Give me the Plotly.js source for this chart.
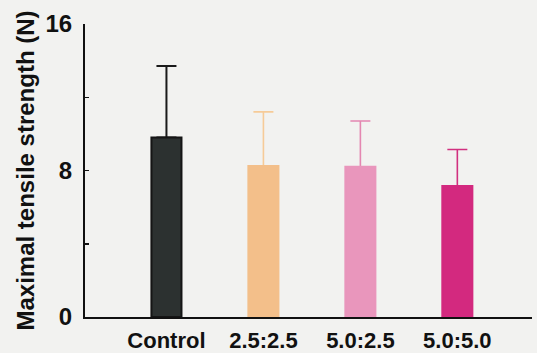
<!DOCTYPE html>
<html>
<head>
<meta charset="utf-8">
<script src="https://cdn.plot.ly/plotly-3.0.1.min.js"></script>
<style>html,body{margin:0;padding:0;background:#f2f2f0;}#chart{width:537px;height:353px;}</style>
</head>
<body>
<div id="chart"></div>
<script>
const categories = ['Control', '2.5:2.5', '5.0:2.5', '5.0:5.0'];
const means = [9.8, 8.25, 8.2, 7.15];
const sds = [3.9, 2.95, 2.5, 2.0];
const barColors = ['#2c3130', '#f3bf8a', '#e996bc', '#d3297f'];
const errColors = ['#1a1a1a', '#f6cb98', '#e487b1', '#d1307f'];
const yTickVals = [0, 4, 8, 12, 16];
const yTickText = ['0', '', '8', '', '16'];

const FONT = 'Liberation Sans, Arial, sans-serif';

// error bars (drawn first, bars are drawn over their lower ends)
const errTraces = categories.map((c, i) => ({
  type: 'bar', x: [c], y: [means[i]], width: 0.31,
  marker: {color: 'rgba(0,0,0,0)', line: {width: 0}},
  error_y: {type: 'data', array: [sds[i]], symmetric: false, arrayminus: [0], visible: true,
            color: errColors[i], thickness: i === 0 ? 2 : 1.6, width: 10},
  showlegend: false, hoverinfo: 'skip'
}));
const barTraces = categories.map((c, i) => ({
  type: 'bar', x: [c], y: [means[i]], width: 0.31,
  marker: {color: barColors[i], line: {color: i === 0 ? '#151515' : barColors[i], width: 2}},
  showlegend: false, hoverinfo: 'skip'
}));

const layout = {
  width: 537, height: 353,
  margin: {l: 85, r: 5, t: 24, b: 36},
  paper_bgcolor: '#f2f2f0',
  plot_bgcolor: '#f2f2f0',
  barmode: 'overlay',
  font: {family: FONT, color: '#111'},
  xaxis: {
    type: 'category',
    categoryorder: 'array', categoryarray: categories,
    range: [-0.84, 3.77],
    showline: true, linecolor: '#111', linewidth: 2,
    ticks: '', showgrid: false, zeroline: false,
    tickfont: {size: 22, family: FONT, weight: 'bold', color: '#111'},
    ticklabelstandoff: 3
  },
  yaxis: {
    range: [0, 16],
    tickvals: yTickVals, ticktext: yTickText,
    ticks: 'inside', ticklen: 4, tickwidth: 1.5, tickcolor: '#111',
    showline: true, linecolor: '#111', linewidth: 2,
    showgrid: false, zeroline: false,
    tickfont: {size: 24, family: FONT, weight: 'bold', color: '#111'},
    ticklabelstandoff: 6,
    title: {text: 'Maximal tensile strength (N)', standoff: 4,
            font: {size: 24, family: FONT, weight: 'bold', color: '#111'}}
  }
};

Plotly.newPlot('chart', errTraces.concat(barTraces), layout, {displayModeBar: false, staticPlot: true});
</script>
</body>
</html>
